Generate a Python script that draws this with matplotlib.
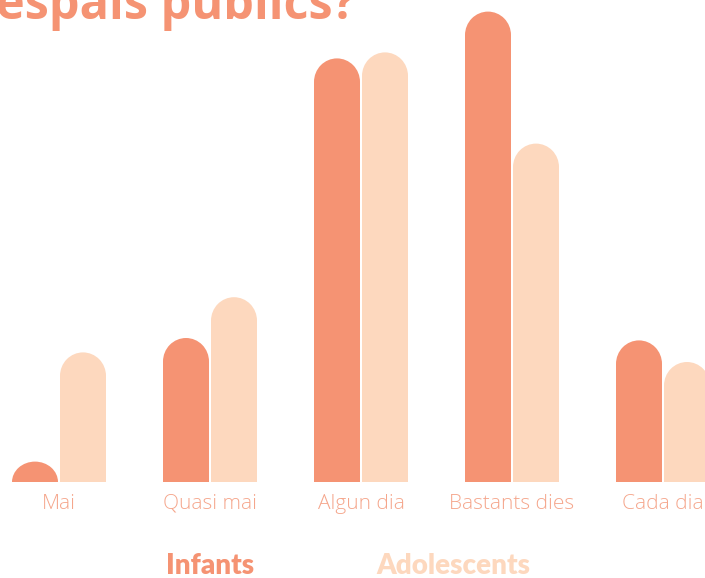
import matplotlib.pyplot as plt
from matplotlib.patches import Ellipse

categories = ['Mai', 'Quasi mai', 'Algun dia', 'Bastants dies', 'Cada dia']
infants = [1.7, 12.0, 35.3, 39.2, 11.8]
adolescents = [10.8, 15.4, 35.8, 28.2, 10.0]

c_inf = '#F59373'
c_ado = '#FDD8BE'
c_lab = '#F5A68C'

fig = plt.figure(figsize=(7.05, 5.78), dpi=100)
ax = fig.add_axes([0, 96 / 578, 1, 482 / 578])

px_x = 151.0            # pixels per category
px_y = 12.0             # pixels per percent
bw = 46 / px_x          # bar width in data units
off = 24 / px_x
r_y = 23.5 / px_y       # radius of rounded top in y data units

ax.set_xlim(-59 / px_x, (705 - 59) / px_x)
ax.set_ylim(0, 482 / px_y)


def rounded_bar(x, h, color):
    top = max(h - r_y, 0)
    if top > 0:
        ax.bar(x, top, width=bw, color=color, linewidth=0)
    ry = r_y if h > r_y else h
    ax.add_patch(Ellipse((x, top), bw, 2 * ry, color=color, linewidth=0))


for i, (a, b) in enumerate(zip(infants, adolescents)):
    rounded_bar(i - off, a, c_inf)
    rounded_bar(i + off, b, c_ado)

ax.set_xticks(range(len(categories)))
ax.set_xticklabels(categories, color=c_lab, fontsize=15,
                   fontfamily='Open Sans', fontweight='light')
ax.tick_params(axis='x', length=0, pad=8.5)
ax.set_yticks([])
for s in ax.spines.values():
    s.set_visible(False)

fig.text(-0.005, 1 - 19 / 578, 'espais públics?', color=c_inf, fontsize=35,
         fontweight='bold', fontfamily='Open Sans', va='baseline', ha='left')

fig.text(210 / 705, 1 - 566 / 578, 'Infants', color=c_inf, fontsize=20,
         fontweight='heavy', fontfamily='Lato', ha='center', va='center')
fig.text(453 / 705, 1 - 566 / 578, 'Adolescents', color=c_ado, fontsize=20,
         fontweight='heavy', fontfamily='Lato', ha='center', va='center')

fig.savefig('out.png', dpi=100)
